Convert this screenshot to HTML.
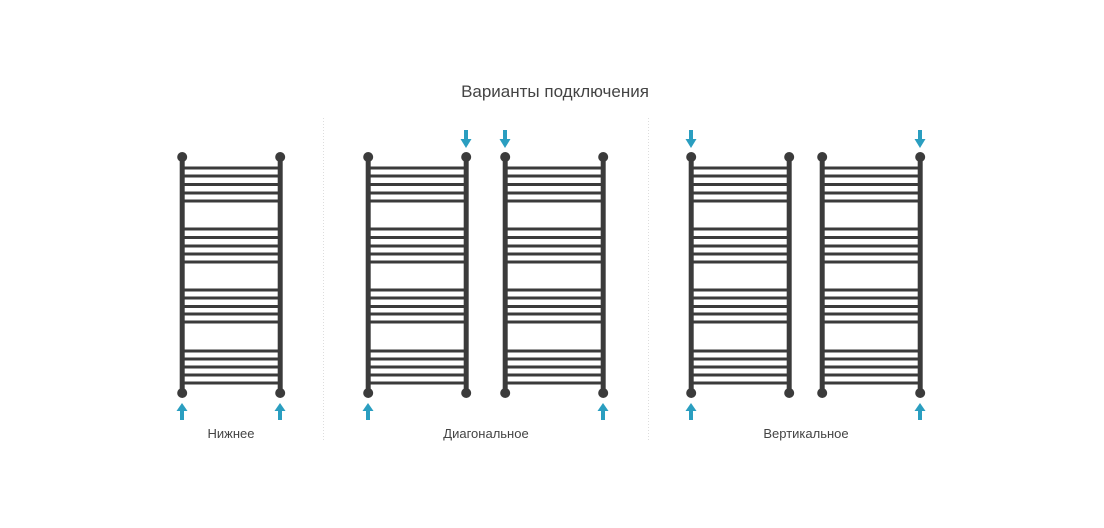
<!DOCTYPE html>
<html><head><meta charset="utf-8"><style>
html,body{margin:0;padding:0;background:#fff;}
svg{display:block;font-family:"Liberation Sans","DejaVu Sans",sans-serif;}
</style></head><body>
<svg width="1104" height="528" viewBox="0 0 1104 528">
<defs>
<g id="towel">
<rect x="-2.3" y="157" width="5" height="236" fill="#3b3b3b"/>
<rect x="95.7" y="157" width="5" height="236" fill="#3b3b3b"/>
<circle cx="0.2" cy="157" r="5" fill="#3b3b3b"/>
<circle cx="98.2" cy="157" r="5" fill="#3b3b3b"/>
<circle cx="0.2" cy="393" r="5" fill="#3b3b3b"/>
<circle cx="98.2" cy="393" r="5" fill="#3b3b3b"/>
<g fill="#3b3b3b">
<rect x="2" y="166.5" width="94" height="3"/><rect x="2" y="174.5" width="94" height="3"/><rect x="2" y="183" width="94" height="3"/><rect x="2" y="191.5" width="94" height="3"/><rect x="2" y="199.5" width="94" height="3"/>
<rect x="2" y="227.5" width="94" height="3"/><rect x="2" y="236" width="94" height="3"/><rect x="2" y="244.5" width="94" height="3"/><rect x="2" y="252.5" width="94" height="3"/><rect x="2" y="260.5" width="94" height="3"/>
<rect x="2" y="288.5" width="94" height="3"/><rect x="2" y="296.5" width="94" height="3"/><rect x="2" y="305" width="94" height="3"/><rect x="2" y="312.5" width="94" height="3"/><rect x="2" y="320.5" width="94" height="3"/>
<rect x="2" y="349.5" width="94" height="3"/><rect x="2" y="357.5" width="94" height="3"/><rect x="2" y="365.5" width="94" height="3"/><rect x="2" y="373.5" width="94" height="3"/><rect x="2" y="381.5" width="94" height="3"/>
</g>
</g>
<g id="up"><rect x="-2" y="410" width="4" height="10" fill="#2a9ec0"/><polygon points="-5.5,411 5.5,411 0,403" fill="#2a9ec0"/></g>
<g id="down"><rect x="-2" y="130" width="4" height="10" fill="#2a9ec0"/><polygon points="-5.5,139 5.5,139 0,148" fill="#2a9ec0"/></g>
</defs>
<text x="555" y="97" font-size="17" fill="#444" text-anchor="middle">Варианты подключения</text>
<line x1="323.5" y1="118" x2="323.5" y2="442" stroke="#ddd" stroke-dasharray="1,2"/>
<line x1="648.5" y1="118" x2="648.5" y2="442" stroke="#ddd" stroke-dasharray="1,2"/>
<use href="#towel" transform="translate(182,0)"/>
<use href="#towel" transform="translate(368,0)"/>
<use href="#towel" transform="translate(505,0)"/>
<use href="#towel" transform="translate(691,0)"/>
<use href="#towel" transform="translate(822,0)"/>
<use href="#up" transform="translate(182,0)"/>
<use href="#up" transform="translate(280,0)"/>
<use href="#up" transform="translate(368,0)"/>
<use href="#down" transform="translate(466,0)"/>
<use href="#down" transform="translate(505,0)"/>
<use href="#up" transform="translate(603,0)"/>
<use href="#down" transform="translate(691,0)"/>
<use href="#up" transform="translate(691,0)"/>
<use href="#down" transform="translate(920,0)"/>
<use href="#up" transform="translate(920,0)"/>
<text x="231" y="438" font-size="13" fill="#444" text-anchor="middle">Нижнее</text>
<text x="486" y="438" font-size="13" fill="#444" text-anchor="middle">Диагональное</text>
<text x="806" y="438" font-size="13" fill="#444" text-anchor="middle">Вертикальное</text>
</svg>
</body></html>
